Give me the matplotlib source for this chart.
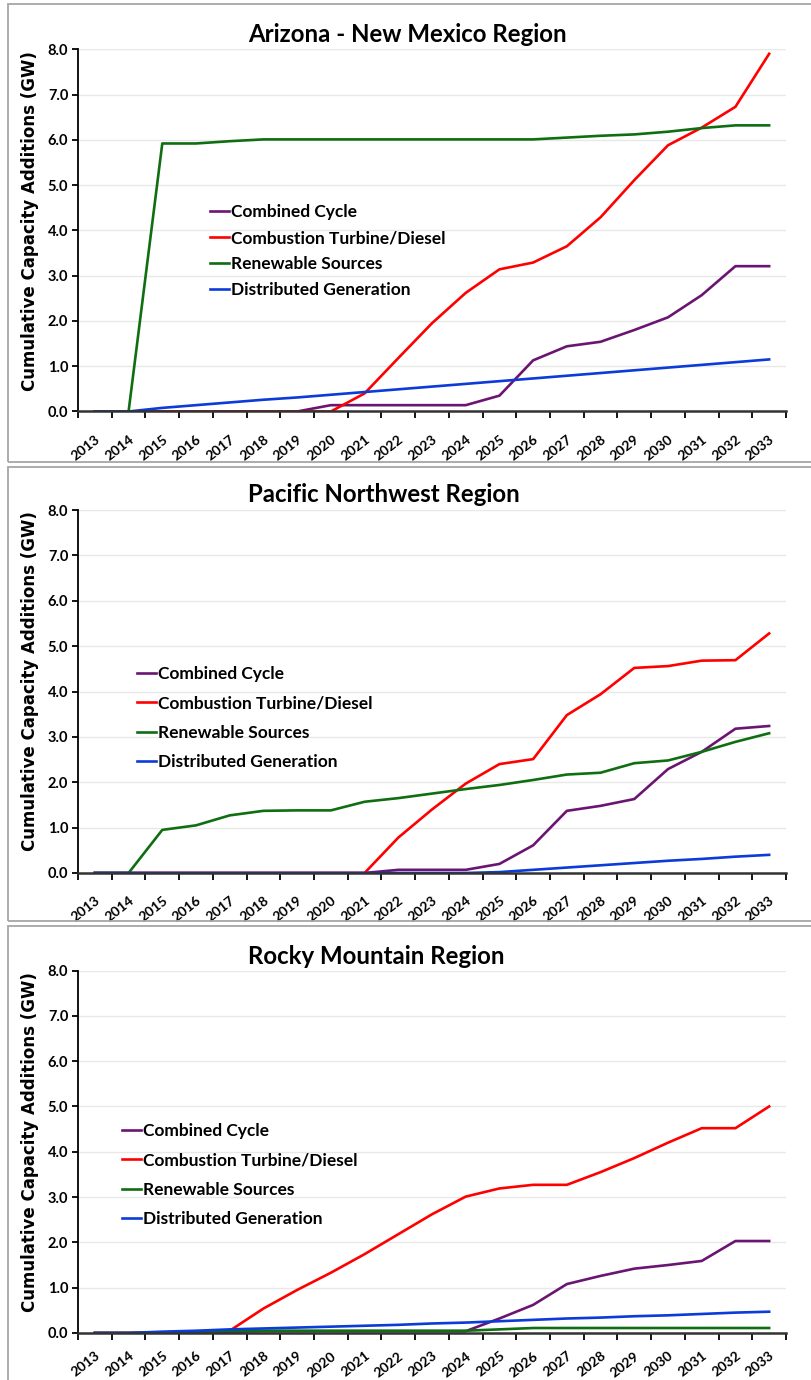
import matplotlib
matplotlib.use("Agg")
import matplotlib.pyplot as plt
from matplotlib.patches import Rectangle
from matplotlib.ticker import FixedLocator, NullFormatter

years = [str(y) for y in range(2013, 2034)]
series_names = ["Combined Cycle", "Combustion Turbine/Diesel",
                "Renewable Sources", "Distributed Generation"]
colors = ["#6B1572", "#FF0000", "#0F6E12", "#0B3BD8"]

az_cc = [0, 0, 0, 0, 0, 0, 0, 0.14, 0.14, 0.14, 0.14, 0.14, 0.35, 1.13,
         1.44, 1.54, 1.80, 2.08, 2.57, 3.21, 3.21]
az_ct = [0, 0, 0, 0, 0, 0, 0, 0, 0.40, 1.18, 1.95, 2.62, 3.14, 3.29,
         3.65, 4.29, 5.11, 5.88, 6.27, 6.73, 7.90]
az_ren = [0, 0, 5.92, 5.92, 5.97, 6.01, 6.01, 6.01, 6.01, 6.01, 6.01, 6.01,
          6.01, 6.01, 6.05, 6.09, 6.12, 6.18, 6.26, 6.32, 6.32]
az_dg = [0, 0, 0.08, 0.14, 0.20, 0.26, 0.31, 0.37, 0.43, 0.49, 0.55, 0.61,
         0.67, 0.73, 0.79, 0.85, 0.91, 0.97, 1.03, 1.09, 1.15]

pnw_cc = [0, 0, 0, 0, 0, 0, 0, 0, 0, 0.07, 0.07, 0.07, 0.20, 0.61,
          1.37, 1.48, 1.63, 2.29, 2.67, 3.18, 3.24]
pnw_ct = [0, 0, 0, 0, 0, 0, 0, 0, 0, 0.78, 1.40, 1.97, 2.40, 2.51,
          3.48, 3.94, 4.52, 4.56, 4.68, 4.69, 5.28]
pnw_ren = [0, 0, 0.95, 1.05, 1.27, 1.37, 1.38, 1.38, 1.57, 1.65, 1.75, 1.85,
           1.94, 2.05, 2.17, 2.21, 2.42, 2.48, 2.67, 2.89, 3.08]
pnw_dg = [0, 0, 0, 0, 0, 0, 0, 0, 0, 0, 0, 0, 0.02, 0.07,
          0.12, 0.17, 0.22, 0.27, 0.31, 0.36, 0.40]

rm_cc = [0, 0, 0.01, 0.02, 0.03, 0.04, 0.04, 0.04, 0.04, 0.04, 0.04, 0.04,
         0.32, 0.62, 1.08, 1.26, 1.42, 1.50, 1.59, 2.03, 2.03]
rm_ct = [0, 0, 0, 0, 0.05, 0.54, 0.95, 1.33, 1.74, 2.18, 2.62, 3.01,
         3.19, 3.27, 3.27, 3.55, 3.86, 4.20, 4.52, 4.52, 5.00]
rm_ren = [0, 0, 0.01, 0.03, 0.04, 0.05, 0.05, 0.05, 0.05, 0.05, 0.05, 0.05,
          0.08, 0.11, 0.11, 0.11, 0.11, 0.11, 0.11, 0.11, 0.11]
rm_dg = [0, 0, 0.03, 0.05, 0.08, 0.10, 0.12, 0.14, 0.16, 0.18, 0.21, 0.23,
         0.26, 0.29, 0.32, 0.34, 0.37, 0.39, 0.42, 0.45, 0.47]

W, H = 812, 1380
fig = plt.figure(figsize=(W / 100, H / 100), dpi=100)

# panel frames (pixel coords, y from top)
for top, bot in [(4, 462), (467, 921), (926, 1390)]:
    fig.patches.append(Rectangle((8 / W, 1 - bot / H), 1.0, (bot - top) / H,
                                 transform=fig.transFigure, fill=False,
                                 edgecolor="#a6a6a6", lw=1.3))

# title, data, axes top/bottom, title y, ylabel centre y, legend anchor,
# legend label spacing, x label pad
panels = [
    ("Arizona - New Mexico Region", [az_cc, az_ct, az_ren, az_dg],
     49.3, 411.5, 35, 221, (201, 251), 0.56, 15.5),
    ("Pacific Northwest Region", [pnw_cc, pnw_ct, pnw_ren, pnw_dg],
     510, 873, 495, 681, (128, 718), 0.76, 15.5),
    ("Rocky Mountain Region", [rm_cc, rm_ct, rm_ren, rm_dg],
     970.5, 1333, 957, 1142, (113, 1175), 0.76, 12),
]

x = list(range(len(years)))
for title, data, top, bot, ty, yl, leg, lsp, xpad in panels:
    ax = fig.add_axes([78 / W, 1 - bot / H, 708 / W, (bot - top) / H])
    lines = []
    for vals, c, name in zip(data, colors, series_names):
        ln, = ax.plot(x, vals, color=c, lw=1.9, label=name,
                      solid_joinstyle="round")
        lines.append(ln)
    ax.set_xlim(-0.5, len(years) - 0.5)
    ax.set_ylim(0, 8)
    ax.set_yticks([i * 1.0 for i in range(9)])
    ax.set_yticklabels([f"{i:.1f}" for i in range(9)], fontfamily="Lato",
                       fontweight="bold", fontsize=10.5)
    ax.yaxis.grid(True, color="#e8e8e8", lw=1)
    ax.set_axisbelow(True)
    ax.xaxis.set_major_locator(FixedLocator([i - 0.5 for i in range(len(years) + 1)]))
    ax.xaxis.set_major_formatter(NullFormatter())
    ax.xaxis.set_minor_locator(FixedLocator(x))
    ax.set_xticklabels(years, minor=True, rotation=38, ha="right",
                       rotation_mode="anchor", fontfamily="Lato",
                       fontweight="bold", fontsize=10)
    ax.tick_params(axis="x", which="major", length=5, width=1.3, direction="out")
    ax.tick_params(axis="x", which="minor", length=0, pad=xpad)
    ax.tick_params(axis="y", length=4, width=1.3, pad=3)
    for s in ["top", "right"]:
        ax.spines[s].set_visible(False)
    ax.spines["left"].set_linewidth(1.3)
    ax.spines["bottom"].set_linewidth(1.8)
    ax.spines["bottom"].set_color("#333333")

    fig.text(248 / W, 1 - ty / H, title, ha="left", va="center",
             fontfamily="Lato", fontweight="bold", fontsize=17.3)
    fig.text(30 / W, 1 - yl / H, "Cumulative Capacity Additions (GW)",
             rotation=90, ha="center", va="center", fontfamily="DejaVu Sans",
             fontweight="bold", fontsize=12)
    ax.legend(handles=lines, loc="center left",
              bbox_to_anchor=(leg[0] / W, 1 - leg[1] / H),
              bbox_transform=fig.transFigure, frameon=False, borderpad=0,
              handlelength=1.1, handletextpad=0.1, labelspacing=lsp,
              prop={"family": "Lato", "weight": "bold", "size": 12.5})

fig.savefig("out.png", dpi=100)
